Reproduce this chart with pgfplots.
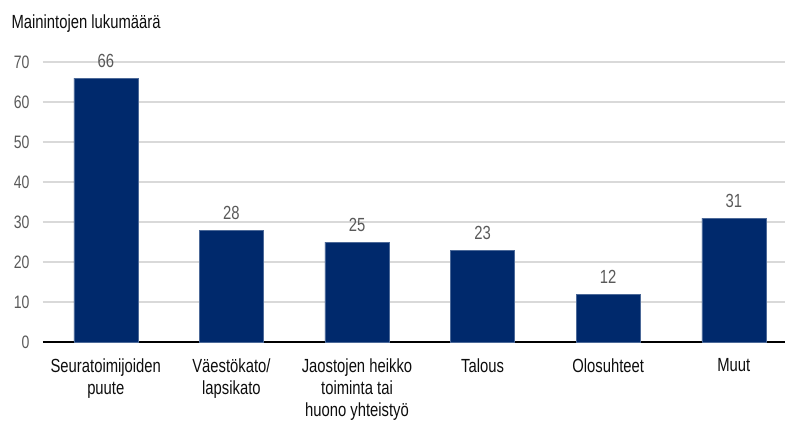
\documentclass[border=0pt]{standalone}
\usepackage{fontspec}
\setmainfont{Liberation Sans}[FakeStretch=0.78]
\usepackage{pgfplots}
\pgfplotsset{compat=1.18}
\definecolor{barblue}{RGB}{0,41,108}
\definecolor{gridgray}{RGB}{217,217,217}
\definecolor{ticktext}{RGB}{89,89,89}
\definecolor{cattext}{RGB}{13,13,13}
\begin{document}
\begin{tikzpicture}
\begin{axis}[
    scale only axis,
    x=125.6pt, y=4pt,
    xmin=-0.5, xmax=5.41,
    ymin=0, ymax=70,
    axis x line=bottom, axis y line=left,
    x axis line style={black, line width=2.4pt, -, shorten <=0pt},
    y axis line style={draw=none},
    ytick={0,10,...,70},
    ymajorgrids, grid style={gridgray, line width=1.2pt},
    xtick=data,
    xticklabels={{Seuratoimijoiden\\puute},{Väestökato/\\lapsikato},{Jaostojen heikko\\toiminta tai\\huono yhteistyö},{Talous},{Olosuhteet},{Muut}},
    xticklabel style={align=center, font=\fontsize{19}{22}\selectfont, text=cattext, yshift=-13pt},
    major tick length=0pt,
    /pgf/number format/assume math mode=true,
    yticklabel style={font=\fontsize{18}{18}\selectfont, text=ticktext, xshift=-10pt},
    bar width=0.51,
    nodes near coords,
    every node near coord/.append style={font=\fontsize{19}{18}\selectfont, text=ticktext, yshift=7pt},
    clip=false,
]
\addplot[ybar, fill=barblue, draw=barblue!70!white] coordinates {
    (0,66) (1,28) (2,25) (3,23) (4,12) (5,31)
};
\end{axis}
\node[anchor=base west, font=\fontsize{19}{18}\selectfont, text=cattext] at (-35pt,313pt) {Mainintojen lukumäärä};
\pgfresetboundingbox
\path (-43pt,-81pt) rectangle (743pt,342pt);
\end{tikzpicture}
\end{document}
